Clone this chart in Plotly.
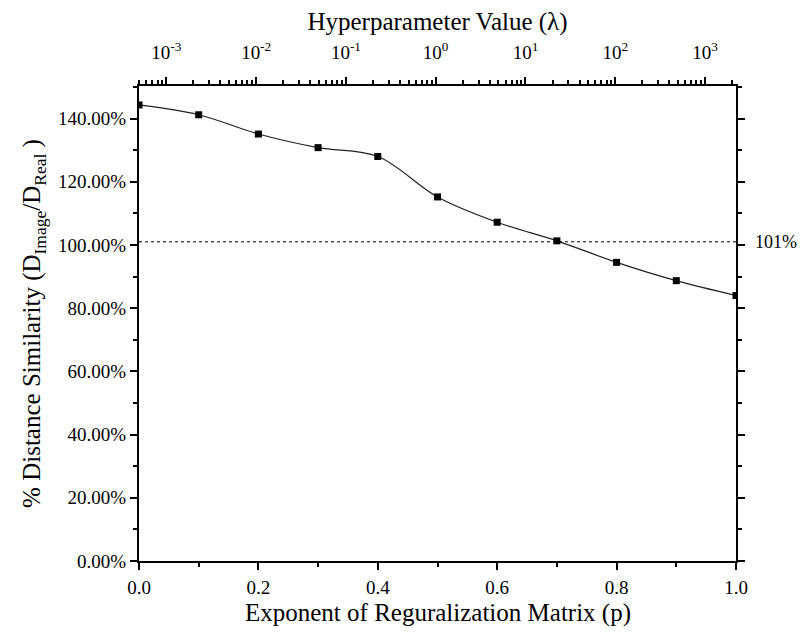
import plotly.graph_objects as go

# Exponent p on the bottom axis and the measured similarity ratio
exponent_p = [0.0, 0.1, 0.2, 0.3, 0.4, 0.5, 0.6, 0.7, 0.8, 0.9, 1.0]
similarity = [1.443, 1.412, 1.351, 1.308, 1.280, 1.152, 1.072, 1.013, 0.945, 0.887, 0.840]

# Reference level shown as a dotted line
ref_level = 1.01
ref_label = '101%'

# Top axis (hyperparameter lambda, log scale)
lambda_ticks = [1e-3, 1e-2, 1e-1, 1e0, 1e1, 1e2, 1e3]
lambda_labels = ['10<sup>-3</sup>', '10<sup>-2</sup>', '10<sup>-1</sup>', '10<sup>0</sup>',
                 '10<sup>1</sup>', '10<sup>2</sup>', '10<sup>3</sup>']
lambda_range = [-3.305, 3.345]

font_family = 'Liberation Serif, Times New Roman, serif'
tick_size = 19
title_size = 25

# minor ticks 2..9 in every decade of the top axis
lambda_minor = [m * 10 ** d for d in range(-4, 4) for m in range(2, 10)]

fig = go.Figure()

fig.add_trace(go.Scatter(
    x=exponent_p, y=similarity,
    mode='lines+markers',
    line=dict(color='#222222', width=1.2, shape='spline', smoothing=1.0),
    marker=dict(symbol='square', size=7, color='black'),
    showlegend=False,
))

# dotted reference line across the full width
fig.add_trace(go.Scatter(
    x=[exponent_p[0], exponent_p[-1]], y=[ref_level, ref_level],
    mode='lines',
    line=dict(color='black', width=1, dash='dot'),
    showlegend=False,
))

# invisible trace so the top axis is drawn
fig.add_trace(go.Scatter(
    x=[lambda_ticks[0], lambda_ticks[-1]], y=[None, None],
    xaxis='x2', mode='markers', showlegend=False, hoverinfo='skip',
))

fig.add_annotation(
    x=1.0, xref='paper', xanchor='left', xshift=17,
    y=ref_level, yref='y', yanchor='middle',
    text=ref_label, showarrow=False,
    font=dict(family=font_family, size=18, color='black'),
)

# bottom axis title placed by hand so it sits where the reference has it
fig.add_annotation(
    x=0.5, xref='paper', xanchor='center',
    y=0, yref='paper', yanchor='middle', yshift=-52,
    text='Exponent of Reguralization Matrix (p)', showarrow=False,
    font=dict(family=font_family, size=title_size, color='black'),
)

axis_common = dict(
    showgrid=False, zeroline=False,
    showline=True, linecolor='black', linewidth=2,
    ticks='outside', tickcolor='black', tickwidth=2, ticklen=7,
    tickfont=dict(family=font_family, size=tick_size, color='black'),
)

# page body adds an 8px margin, so the figure is a bit smaller than the window
fig.update_layout(
    width=797, height=621,
    margin=dict(l=131, r=69, t=72, b=68),
    paper_bgcolor='white', plot_bgcolor='white',
    font=dict(family=font_family, color='black'),
    xaxis=dict(
        **axis_common,
        range=[0, 1], dtick=0.2, tick0=0, tickformat='.1f',
        ticklabelstandoff=1, automargin=False,
        minor=dict(ticks='outside', dtick=0.1, ticklen=4, tickwidth=2, tickcolor='black'),
    ),
    yaxis=dict(
        **axis_common,
        range=[0, 1.503], dtick=0.2, tick0=0, tickformat='.2%',
        mirror='ticks',
        minor=dict(ticks='outside', dtick=0.1, ticklen=4, tickwidth=2, tickcolor='black'),
        title=dict(text='% Distance Similarity (D<sub>Image</sub>/D<sub>Real</sub> )',
                   font=dict(family=font_family, size=title_size, color='black'), standoff=10),
    ),
    xaxis2=dict(
        **axis_common,
        type='log', overlaying='x', side='top', anchor='y',
        range=lambda_range,
        tickmode='array', tickvals=lambda_ticks, ticktext=lambda_labels,
        ticklabelstandoff=10,
        minor=dict(ticks='outside', tickmode='array', tickvals=lambda_minor,
                   ticklen=4, tickwidth=1.5, tickcolor='black'),
        title=dict(text='Hyperparameter Value (λ)',
                   font=dict(family=font_family, size=title_size, color='black'), standoff=2),
    ),
)

fig.write_html('out.html')
